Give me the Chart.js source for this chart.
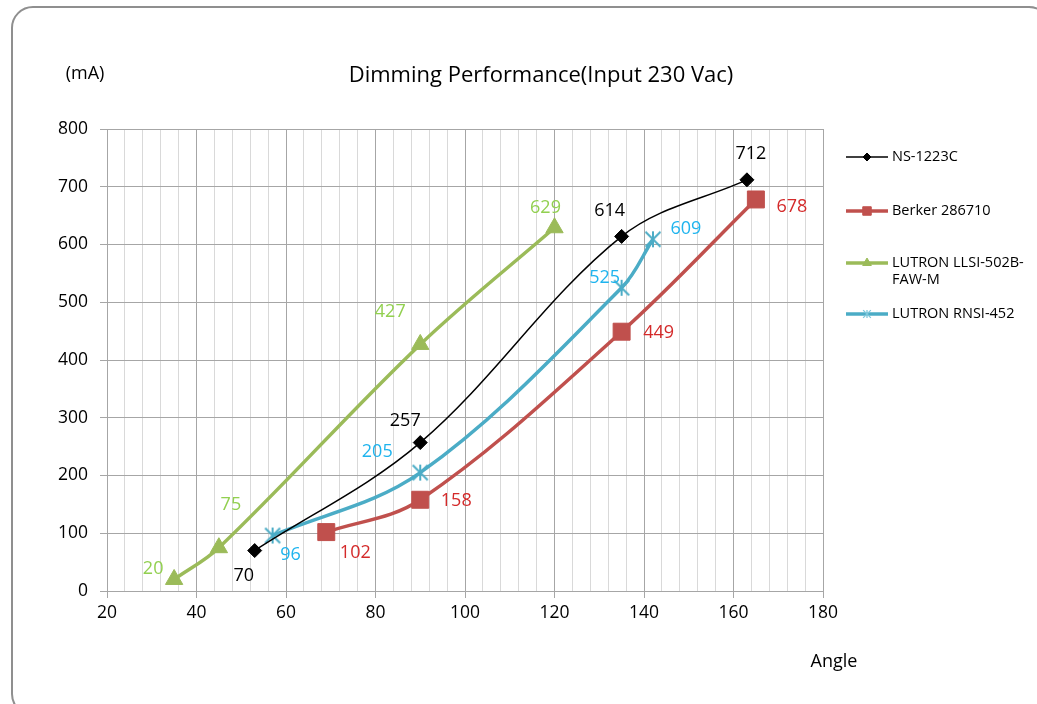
<!DOCTYPE html>
<html>
<head>
<meta charset="utf-8">
<script src="https://cdn.jsdelivr.net/npm/chart.js@4.4.1/dist/chart.umd.min.js"></script>
<style>
  html, body { margin: 0; padding: 0; background: #ffffff; }
  #wrap { position: relative; width: 1037px; height: 704px; overflow: hidden; }
  #frame { position: absolute; left: 11px; top: 6px; width: 1040px; height: 710px;
           border: 2px solid #8f8f8f; border-radius: 22px; box-sizing: border-box; }
  #c { position: absolute; left: 0; top: 0; }
</style>
</head>
<body>
<div id="wrap">
  <div id="frame"></div>
  <canvas id="c" width="1037" height="704"></canvas>
</div>
<script>
// ---- data ----
const seriesNames = ["NS-1223C", "Berker 286710", "LUTRON LLSI-502B-FAW-M", "LUTRON RNSI-452"];
const nsAngle = [53, 90, 135, 163];
const nsCurrent = [70, 257, 614, 712];
const berkerAngle = [69, 90, 135, 165];
const berkerCurrent = [102, 158, 449, 678];
const llsiAngle = [35, 45, 90, 120];
const llsiCurrent = [20, 75, 427, 629];
const rnsiAngle = [57, 90, 135, 142];
const rnsiCurrent = [96, 205, 525, 609];
const xTicks = [20, 40, 60, 80, 100, 120, 140, 160, 180];
const yTicks = [0, 100, 200, 300, 400, 500, 600, 700, 800];

const FONT = "'Open Sans', 'DejaVu Sans', sans-serif";

function pts(xs, ys) { return xs.map((x, i) => ({ x: x, y: ys[i] })); }

// Excel-style "star" marker: X plus a vertical stroke
function starMarker(size, lw, color) {
  const c = document.createElement("canvas");
  c.width = size; c.height = size;
  const g = c.getContext("2d");
  g.strokeStyle = color; g.lineWidth = lw; g.lineCap = "butt";
  const p = lw / 2 + 0.5, q = size - p, m = size / 2;
  g.beginPath();
  g.moveTo(p, p); g.lineTo(q, q);
  g.moveTo(q, p); g.lineTo(p, q);
  g.moveTo(m, 1); g.lineTo(m, size - 1);
  g.stroke();
  return c;
}
const starBig = starMarker(18, 2, "#4bacc6");
const starSmall = starMarker(10, 1.3, "#7fc8dc");

// label placement (offset of label centre from its point) and colours
const labelStyle = [
  { color: "#000000", off: [[-11, 25], [-15, -22], [-12, -26], [4, -26]] },
  { color: "#d42a2a", off: [[29, 21], [36, 1], [37, 1], [36, 7]] },
  { color: "#92d050", off: [[-21, -11], [12, -43], [-30, -33], [-9, -20]] },
  { color: "#1fb4ee", off: [[18, 19], [-43, -21], [-17, -10], [33, -10]] }
];

const dataLabels = {
  id: "dataLabels",
  afterDatasetsDraw(chart) {
    const ctx = chart.ctx;
    ctx.save();
    ctx.font = "18px " + FONT;
    ctx.textAlign = "center";
    ctx.textBaseline = "middle";
    chart.data.datasets.forEach((ds, di) => {
      const meta = chart.getDatasetMeta(di);
      meta.data.forEach((el, i) => {
        const o = labelStyle[di].off[i];
        ctx.fillStyle = labelStyle[di].color;
        ctx.fillText(String(ds.data[i].y), el.x + o[0], el.y + o[1]);
      });
    });
    ctx.restore();
  }
};

const extras = {
  id: "extras",
  afterDraw(chart) {
    const ctx = chart.ctx;
    ctx.save();
    ctx.fillStyle = "#000";
    ctx.textAlign = "center";
    ctx.textBaseline = "middle";
    ctx.font = "22px " + FONT;
    ctx.fillText("Dimming Performance(Input 230 Vac)", 541, 76);
    ctx.font = "18px " + FONT;
    ctx.fillText("(mA)", 85, 74);
    ctx.fillText("Angle", 834, 662);

    // legend
    const rows = [157, 211, 263, 314];
    const mr = [4, 6, 5, 5];
    chart.data.datasets.forEach((ds, di) => {
      const y = rows[di];
      ctx.strokeStyle = ds.borderColor;
      ctx.lineWidth = di === 0 ? 1.5 : 3.5;
      ctx.beginPath(); ctx.moveTo(846, y); ctx.lineTo(888, y); ctx.stroke();
      ctx.fillStyle = ds.pointBackgroundColor;
      ctx.strokeStyle = ds.pointBorderColor;
      ctx.lineWidth = 1;
      if (di === 3) {
        ctx.drawImage(starSmall, 867 - 5, y - 5);
      } else {
        Chart.helpers.drawPoint(ctx, {
          pointStyle: ds.pointStyle, radius: mr[di], rotation: 0, borderWidth: 1
        }, 867, y);
      }
    });
    ctx.font = "14.5px " + FONT;
    ctx.textAlign = "left";
    ctx.fillStyle = "#000";
    ctx.fillText("NS-1223C", 892, 157);
    ctx.fillText("Berker 286710", 892, 211);
    ctx.fillText("LUTRON LLSI-502B-", 892, 263);
    ctx.fillText("FAW-M", 892, 280);
    ctx.fillText("LUTRON RNSI-452", 892, 314);
    ctx.restore();
  }
};

new Chart(document.getElementById("c"), {
  type: "scatter",
  data: {
    datasets: [
      { label: seriesNames[0], data: pts(nsAngle, nsCurrent), showLine: true,
        borderColor: "#000000", borderWidth: 1.5, tension: 0.35,
        pointStyle: "rectRot", pointRadius: 7, pointBackgroundColor: "#000000",
        pointBorderColor: "#000000", pointBorderWidth: 1, order: 0 },
      { label: seriesNames[1], data: pts(berkerAngle, berkerCurrent), showLine: true,
        borderColor: "#c0504d", borderWidth: 3.5, tension: 0.35,
        pointStyle: "rect", pointRadius: 12, pointBackgroundColor: "#c0504d",
        pointBorderColor: "#c0504d", pointBorderWidth: 1, order: 3 },
      { label: seriesNames[2], data: pts(llsiAngle, llsiCurrent), showLine: true,
        borderColor: "#9bbb59", borderWidth: 3.5, tension: 0.35,
        pointStyle: "triangle", pointRadius: 10, pointBackgroundColor: "#9bbb59",
        pointBorderColor: "#9bbb59", pointBorderWidth: 1, order: 2 },
      { label: seriesNames[3], data: pts(rnsiAngle, rnsiCurrent), showLine: true,
        borderColor: "#4bacc6", borderWidth: 3.5, tension: 0.35,
        pointStyle: starBig, pointRadius: 9, pointBackgroundColor: "#4bacc6",
        pointBorderColor: "#4bacc6", pointBorderWidth: 2, order: 1 }
    ]
  },
  options: {
    responsive: false,
    animation: false,
    layout: { padding: { left: 37, right: 214, top: 129, bottom: 73 } },
    plugins: { legend: { display: false }, title: { display: false }, tooltip: { enabled: false } },
    scales: {
      x: {
        type: "linear", min: 20, max: 180,
        afterFit: s => { s.height = 40; },
        ticks: {
          stepSize: 4, autoSkip: false, maxRotation: 0, padding: 5,
          color: "#000", font: { family: FONT, size: 17.5 },
          callback: v => (xTicks.includes(v) ? String(v) : "")
        },
        grid: {
          color: c => (c.tick && c.tick.value % 20 === 0 ? "#a6a6a6" : "#d9d9d9"),
          tickColor: c => (c.tick && c.tick.value % 20 === 0 ? "#a6a6a6" : "rgba(0,0,0,0)"),
          tickLength: 7, lineWidth: 1
        },
        border: { display: true, color: "#a6a6a6" }
      },
      y: {
        type: "linear", min: 0, max: 800,
        afterFit: s => { s.width = 70; },
        afterBuildTicks: s => { s.ticks = yTicks.map(v => ({ value: v })); },
        ticks: {
          stepSize: 100, padding: 12, color: "#000", font: { family: FONT, size: 17.5 }
        },
        grid: { color: "#a6a6a6", tickColor: "#a6a6a6", tickLength: 7, lineWidth: 1 },
        border: { display: true, color: "#a6a6a6" }
      }
    }
  },
  plugins: [dataLabels, extras]
});
</script>
</body>
</html>
